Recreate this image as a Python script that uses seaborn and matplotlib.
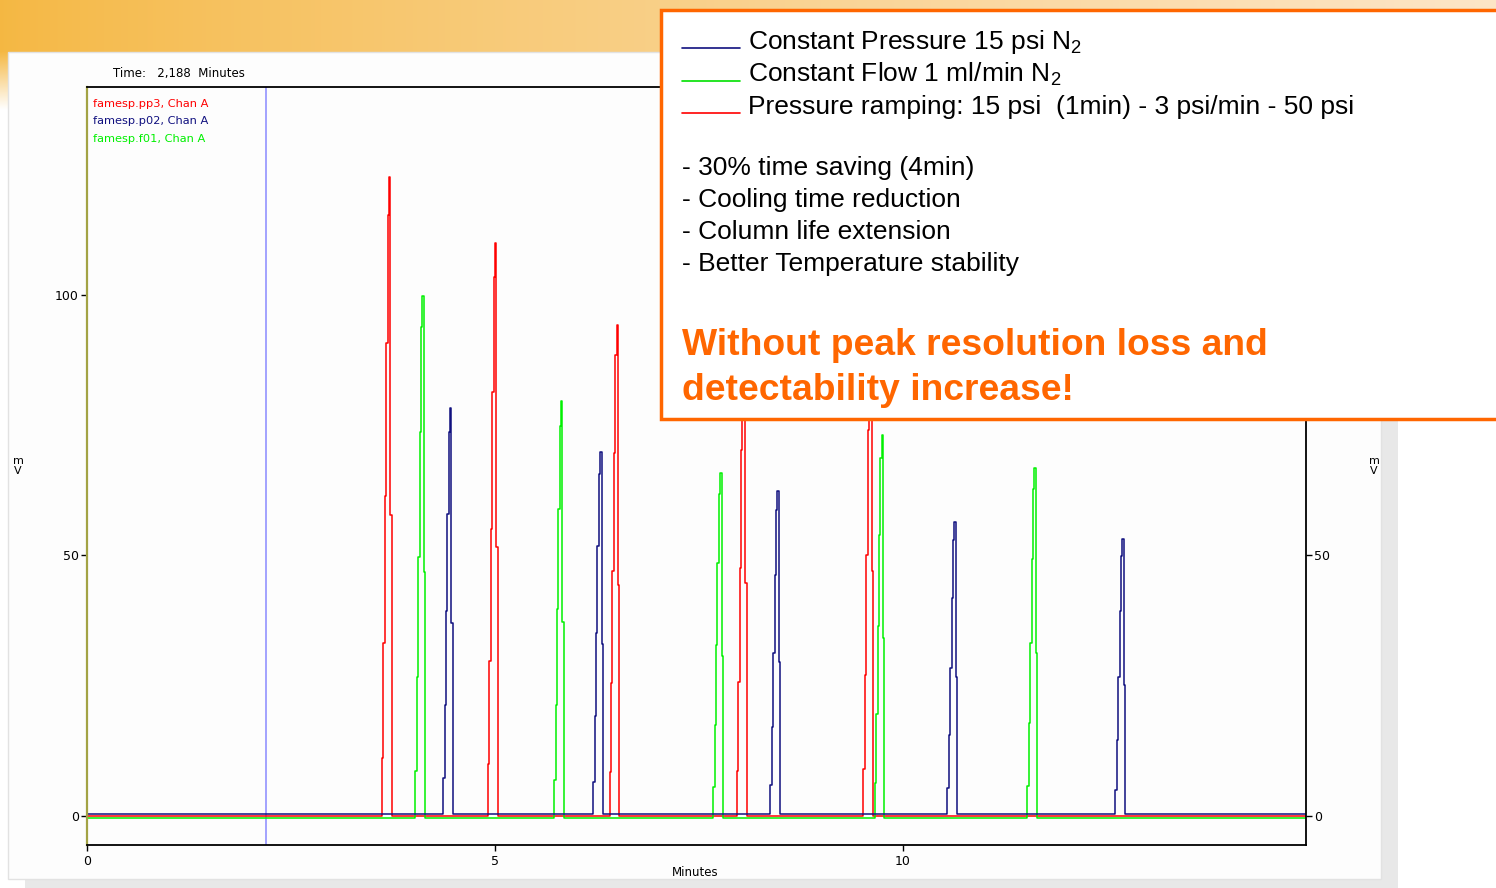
import numpy as np
import pandas as pd
import seaborn as sns
import matplotlib
matplotlib.use("Agg")
import matplotlib.pyplot as plt
from matplotlib.patches import Rectangle
from matplotlib.lines import Line2D

# ---------------- data ----------------
run_names = ["famesp.pp3, Chan A", "famesp.p02, Chan A", "famesp.f01, Chan A"]
run_colors = ["#ff0000", "#10107f", "#00f000"]

red_times = [3.70, 5.00, 6.49, 8.05, 9.60]          # min
red_heights = [122.7, 110.0, 94.2, 95.0, 100.0]     # mV (last two hidden by the box)
blue_times = [4.45, 6.29, 8.46, 10.63, 12.69]
blue_heights = [78.3, 69.9, 62.4, 56.4, 53.1]
green_times = [4.11, 5.81, 7.76, 9.74, 11.61]
green_heights = [99.8, 79.7, 65.8, 73.1, 66.7]
baselines = [0.0, 0.3, -0.3]

sample_step = 0.017                     # min between samples
profile_samples = [-6, -5, -4, -3, -2, -1, 0, 1, 2]
profile_levels = [0.0, 0.09, 0.27, 0.50, 0.74, 0.94, 1.0, 0.47, 0.0]

cursor_time = 2.188
run_end = 14.94

x_ticks = [0, 5, 10]
y_ticks = [0, 50, 100]

legend_lines = ["Constant Pressure 15 psi N$_2$",
                "Constant Flow 1 ml/min N$_2$",
                "Pressure ramping: 15 psi  (1min) - 3 psi/min - 50 psi"]
legend_line_colors = ["#10107f", "#00e000", "#ff0000"]
bullets = ["- 30% time saving (4min)",
           "- Cooling time reduction",
           "- Column life extension",
           "- Better Temperature stability"]
headline = ["Without peak resolution loss and", "detectability increase!"]

# ---------------- build traces ----------------
rows = []
for name, times, heights, base in zip(
        run_names, [red_times, blue_times, green_times],
        [red_heights, blue_heights, green_heights], baselines):
    rows.append((name, 0.0, base))
    for t, h in zip(times, heights):
        for k, lv in zip(profile_samples, profile_levels):
            rows.append((name, t + k * sample_step, base + lv * (h - base)))
    rows.append((name, run_end, base))
df = pd.DataFrame(rows, columns=["run", "time", "mV"]).sort_values(["run", "time"])

# ---------------- figure ----------------
sns.set_theme(style="white")
plt.rcParams["font.family"] = ["DejaVu Sans"]
plt.rcParams["text.color"] = "black"
plt.rcParams["mathtext.fontset"] = "custom"
plt.rcParams["mathtext.rm"] = "Liberation Sans"
plt.rcParams["mathtext.default"] = "regular"

W, H = 1496, 888
fig = plt.figure(figsize=(W / 100, H / 100), dpi=100)


def fx(px):
    return px / W


def fy(py):
    return 1 - py / H


# slide background
bg = fig.add_axes([0, 0, 1, 1], zorder=-10)
img = np.ones((H, W, 3))
xs = np.linspace(0, 1, W)
left_c = np.array([0.96, 0.72, 0.26])
right_c = np.array([0.99, 0.90, 0.78])
tt = xs[:, None] ** 0.8
band = left_c * (1 - tt) + right_c * tt
for y in range(0, 70):
    f = 1.0 if y < 52 else max(0.0, 1 - (y - 52) / 18)
    img[y] = band * f + (1 - f)
for y in range(52, 110):
    f = max(0.0, 1 - (y - 52) / 58)
    img[y, :10] = band[:10] * f + (1 - f)
bg.imshow(img, aspect="auto", extent=[0, 1, 0, 1])
bg.axis("off")

# panel with shadow
fig.add_artist(Rectangle((fx(25), fy(888)), fx(1398) - fx(25), (888 - 60) / H,
                         transform=fig.transFigure, facecolor="#e8e8e8",
                         edgecolor="none", zorder=-5))
fig.add_artist(Rectangle((fx(8), fy(879)), fx(1381) - fx(8), (879 - 52) / H,
                         transform=fig.transFigure, facecolor="#fdfdfd",
                         edgecolor="#e2e2e2", lw=1, zorder=-4))

ax = fig.add_axes([fx(87), fy(845), fx(1306) - fx(87), (845 - 87) / H])
ax.set_facecolor("#fdfdfd")
sns.lineplot(data=df, x="time", y="mV", hue="run",
             hue_order=[run_names[0], run_names[2], run_names[1]],
             palette=dict(zip(run_names, run_colors)),
             estimator=None, sort=False, legend=False,
             drawstyle="steps-post", linewidth=1.1, ax=ax)
ax.axvline(cursor_time, color="#8a8aff", lw=1.1, zorder=1)

ax.set_xlim(0, run_end)
ax.set_ylim(-5.57, 139.9)
ax.set_xticks(x_ticks)
ax.set_yticks(y_ticks)
ax.set_xticklabels([str(v) for v in x_ticks])
ax.set_yticklabels([str(v) for v in y_ticks])
ax.set_xlabel("")
ax.set_ylabel("")
ax.tick_params(axis="both", which="both", direction="out", length=4, width=1,
               colors="black", labelsize=9, pad=2)
ax.tick_params(axis="y", left=True, right=True, labelleft=True, labelright=True)
ax.tick_params(axis="x", bottom=True, pad=3)
for side in ["top", "right", "bottom"]:
    ax.spines[side].set_color("black")
    ax.spines[side].set_linewidth(1.3)
ax.spines["left"].set_color("#a3a345")
ax.spines["left"].set_linewidth(1.6)

# chart texts
fig.text(fx(113), fy(74), "Time:   2,188  Minutes", fontsize=8.5, va="center")
for i, (name, col) in enumerate(zip(run_names, run_colors)):
    fig.text(fx(93), fy(104 + 17.5 * i), name, color=col, fontsize=8.2, va="center")
fig.text(fx(695), fy(872), "Minutes", fontsize=8.5, ha="center", va="center")
fig.text(fx(18), fy(466), "m\nV", fontsize=8, ha="center", va="center", linespacing=1.1)
fig.text(fx(1374), fy(466), "m\nV", fontsize=8, ha="center", va="center", linespacing=1.1)

# annotation box
fig.add_artist(Rectangle((fx(661), fy(419)), fx(1510) - fx(661), (419 - 10) / H,
                         transform=fig.transFigure, facecolor="white",
                         edgecolor="#ff6600", lw=2.5, zorder=10))
for i, (txt, col) in enumerate(zip(legend_lines, legend_line_colors)):
    yb = [48, 81, 113][i]
    fig.add_artist(Line2D([fx(682), fx(740)], [fy(yb), fy(yb)],
                          transform=fig.transFigure, color=col, lw=1.2, zorder=11))
    fig.text(fx(748), fy(yb + 1), txt, fontsize=19, family="Liberation Sans",
             va="baseline", zorder=12)
for i, txt in enumerate(bullets):
    fig.text(fx(682), fy(175 + 32 * i), txt, fontsize=19, family="Liberation Sans",
             va="baseline", zorder=12)
for i, txt in enumerate(headline):
    fig.text(fx(682), fy(355 + 45 * i), txt, fontsize=26.8, family="Liberation Sans",
             weight="bold", color="#ff6600", va="baseline", zorder=12)

fig.savefig("out.png", dpi=100)
